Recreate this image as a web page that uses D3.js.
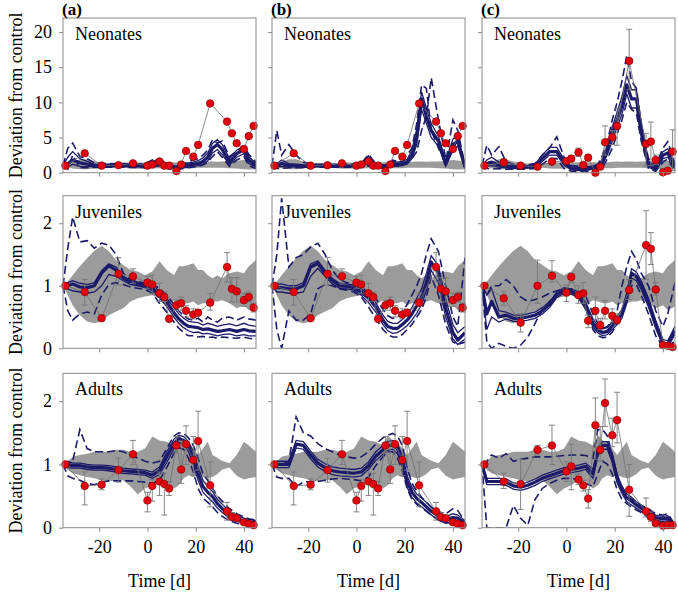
<!DOCTYPE html>
<html><head><meta charset="utf-8">
<script src="https://cdn.jsdelivr.net/npm/d3@7"></script>
<style>
body{margin:0;background:#fff}
svg{display:block}
text{font-family:"Liberation Serif","Times New Roman",serif;fill:#000}
</style>
</head><body>
<svg id="chart" width="678" height="596"></svg>
<script>
// ---------------- DATA ----------------
const panelLabels = ["(a)", "(b)", "(c)"];
const stageNames = ["Neonates", "Juveniles", "Adults"];
const xTicks = [-20, 0, 20, 40];
const yTicksNeo = [0, 5, 10, 15, 20];
const yTicksJuvAd = [0, 1, 2];

const obsTime = [-34,-26,-19,-12,-6,0,2,5,7,9,12,14,16,19,21,26,33,35,37,40,42,44];
const modelTime = [-35,-33,-31,-28,-25,-22,-19,-16,-13,-10,-7,-4,-1,2,5,8,11,13,15,17,19,21,23,25,27,29,31,34,37,40,42,45];

// observations
const neoObsAB = [1.0,2.76,1.0,1.07,1.33,1.0,1.17,1.6,1.0,1.0,0.24,1.17,3.09,2.28,3.95,9.85,7.27,5.6,4.18,3.38,5.2,6.65];
const neoObsC  = [1.0,1.48,1.0,0.85,1.57,1.67,2.0,2.9,1.1,2.14,0.0,0.85,4.33,5.04,6.65,15.9,4.09,4.42,1.81,0.05,0.28,3.0];
const neoErrHiC = [1.0,2.0,1.2,1.0,1.8,1.9,2.4,3.5,1.4,2.6,0.2,1.2,6.65,6.0,9.2,20.4,5.6,7.2,2.5,0.2,0.6,6.1];
const neoErrLoC = [1.0,1.0,0.8,0.7,1.3,1.4,1.6,2.3,0.8,1.7,0.0,0.5,2.5,4.0,3.9,11.8,1.0,1.0,1.2,0.0,0.0,0.3];

const juvObsAB   = [1.0,0.90,0.48,1.19,1.15,1.05,1.02,0.88,0.82,0.47,0.69,0.72,0.60,0.54,0.57,0.73,1.30,0.95,0.91,0.77,0.82,0.65];
const juvErrHiAB = [1.0,1.10,0.54,1.45,1.27,1.15,1.17,1.04,0.90,0.53,0.77,0.82,0.68,0.63,0.62,0.88,1.53,1.13,1.13,0.88,0.90,0.72];
const juvErrLoAB = [1.0,0.69,0.44,1.01,1.04,0.96,0.88,0.75,0.75,0.43,0.61,0.61,0.50,0.47,0.52,0.61,1.06,0.74,0.74,0.67,0.74,0.58];
const juvObsC    = [1.0,0.80,0.41,1.0,1.16,0.89,1.14,0.85,0.88,0.44,0.60,0.37,0.60,0.52,0.45,0.93,1.65,1.59,0.94,0.05,0.04,0.02];
const juvErrHiC  = [1.0,0.90,0.55,1.41,1.40,1.01,1.20,1.00,1.05,0.53,0.82,0.48,0.76,0.63,0.55,1.10,2.20,1.85,1.05,0.08,0.06,0.04];
const juvErrLoC  = [1.0,0.69,0.26,0.72,1.06,0.75,1.05,0.72,0.72,0.33,0.45,0.30,0.47,0.42,0.39,0.78,1.10,1.34,0.85,0.03,0.02,0.01];

const adObsAB   = [1.0,0.66,0.68,0.91,1.16,0.43,0.66,0.73,0.69,0.62,1.30,0.92,1.32,1.07,1.37,0.67,0.26,0.17,0.15,0.085,0.06,0.04];
const adErrHiAB = [1.0,0.88,0.77,1.10,1.38,0.56,0.76,0.88,0.86,0.73,1.44,1.37,1.61,1.44,1.84,1.04,0.40,0.24,0.20,0.12,0.08,0.06];
const adErrLoAB = [1.0,0.36,0.60,0.72,1.00,0.25,0.42,0.51,0.20,0.51,1.18,0.70,1.00,0.82,0.91,0.33,0.12,0.12,0.11,0.05,0.04,0.02];
const adObsC    = [1.0,0.73,0.69,1.23,1.30,0.89,0.97,0.76,0.67,0.46,1.62,1.23,1.97,1.46,1.70,0.60,0.26,0.17,0.07,0.03,0.04,0.04];
const adErrHiC  = [1.0,0.86,1.08,1.30,1.62,1.04,1.32,0.85,0.75,0.60,2.05,1.60,2.35,1.73,2.14,1.00,0.47,0.25,0.10,0.05,0.06,0.06];
const adErrLoC  = [1.0,0.62,0.29,1.15,1.00,0.73,0.60,0.68,0.58,0.31,1.08,1.05,1.60,1.28,1.34,0.18,0.17,0.10,0.04,0.01,0.02,0.02];

// control variability band
const neoBandUp = [1.0,1.3,1.6,1.9,1.9,1.6,1.4,1.3,1.4,1.3,1.4,1.5,1.4,1.45,1.5,1.45,1.5,1.45,1.5,1.5,1.55,1.6,1.55,1.6,1.6,1.55,1.6,1.6,1.7,1.8,1.75,1.6];
const neoBandLo = [1.0,0.8,0.6,0.5,0.5,0.6,0.7,0.7,0.65,0.7,0.6,0.55,0.6,0.6,0.62,0.6,0.6,0.62,0.62,0.65,0.65,0.7,0.7,0.7,0.72,0.7,0.7,0.65,0.6,0.5,0.45,0.5];
const juvBandUp = [1.0,1.07,1.17,1.31,1.44,1.56,1.64,1.55,1.41,1.33,1.25,1.23,1.17,1.23,1.39,1.25,1.17,1.31,1.31,1.33,1.36,1.25,1.25,1.17,1.12,1.17,1.12,1.2,1.23,1.2,1.31,1.41];
const juvBandLo = [1.0,0.85,0.69,0.53,0.43,0.4,0.43,0.53,0.59,0.64,0.75,0.8,0.83,0.85,0.8,0.69,0.77,0.75,0.72,0.72,0.75,0.69,0.72,0.72,0.75,0.75,0.77,0.72,0.64,0.69,0.61,0.67];
const adBandUp  = [1.0,1.05,1.12,1.15,1.17,1.2,1.2,1.2,1.23,1.23,1.2,1.2,1.25,1.44,1.38,1.36,1.3,1.46,1.38,1.36,1.25,1.15,1.25,1.36,1.15,1.1,1.06,1.02,1.15,1.36,1.3,1.2];
const adBandLo  = [1.0,0.91,0.86,0.83,0.8,0.78,0.75,0.73,0.75,0.75,0.65,0.53,0.62,0.67,0.75,0.73,0.62,0.67,0.78,0.83,0.8,0.83,0.8,0.78,0.8,0.85,0.92,0.95,0.82,0.76,0.78,0.8];

// model curves: mean (thick), hi/lo (thin solid), dhi/dlo (dashed)
const neoA_mean = [1.0,1.3,1.8,1.4,1.2,1.0,0.95,1.0,1.0,1.05,1.0,0.95,1.0,1.3,1.6,1.0,0.7,0.8,0.9,1.1,1.2,1.3,1.6,2.2,3.5,4.0,3.3,1.5,2.7,3.3,1.8,1.0];
const neoA_hi   = [1.0,2.2,3.0,2.0,1.6,1.2,1.1,1.2,1.15,1.2,1.15,1.1,1.2,1.6,1.9,1.2,0.9,1.0,1.1,1.4,1.5,1.7,2.1,2.8,4.2,4.7,4.0,2.0,3.2,3.8,2.3,1.3];
const neoA_lo   = [1.0,0.8,1.2,0.9,0.85,0.85,0.85,0.9,0.9,0.9,0.85,0.85,0.85,1.0,1.2,0.8,0.5,0.6,0.7,0.8,0.9,1.0,1.2,1.7,2.8,3.3,2.6,1.1,2.2,2.7,1.3,0.8];
const neoA_dhi  = [1.0,3.5,4.2,2.3,2.0,1.4,1.3,1.3,1.25,1.3,1.3,1.2,1.3,1.8,2.0,1.3,1.0,1.1,1.2,1.6,1.8,2.0,2.5,3.2,4.7,4.2,4.5,2.3,3.0,3.8,2.6,1.5];
const neoA_dlo  = [1.0,0.5,2.5,0.7,0.7,0.75,0.75,0.8,0.8,0.8,0.75,0.75,0.7,0.85,1.0,0.6,0.45,0.5,0.6,0.7,0.8,0.9,1.1,1.5,2.3,3.0,2.2,0.9,1.8,2.3,1.0,0.6];

const neoB_mean = [1.0,1.0,1.3,1.0,1.0,0.9,0.95,1.0,1.0,1.0,1.0,1.0,1.0,1.0,1.8,1.0,0.8,0.9,1.3,1.2,1.3,1.5,2.5,5.0,10.5,8.0,6.0,4.5,1.2,4.0,4.5,0.8];
const neoB_hi   = [1.0,1.3,1.8,1.3,1.2,1.1,1.1,1.15,1.15,1.15,1.15,1.15,1.15,1.2,2.4,1.2,1.0,1.1,1.6,1.5,1.6,1.9,3.2,6.2,11.5,9.2,7.0,5.2,1.6,4.8,5.3,1.1];
const neoB_lo   = [1.0,0.8,0.9,0.8,0.85,0.75,0.8,0.85,0.85,0.85,0.85,0.85,0.85,0.85,1.3,0.8,0.6,0.7,1.0,0.9,1.0,1.2,2.0,4.0,9.0,7.0,5.0,3.8,0.9,3.2,3.8,0.6];
const neoB_dhi  = [1.0,6.0,2.5,4.0,2.5,1.5,1.3,1.2,1.2,1.2,1.2,1.2,1.2,1.3,2.6,1.3,1.1,1.2,1.8,1.6,2.0,2.5,3.5,7.0,12.5,12.0,6.0,3.5,1.5,7.5,6.0,1.0];
const neoB_dlo  = [1.0,0.6,0.6,0.7,0.7,0.7,0.75,0.8,0.8,0.8,0.8,0.8,0.8,0.85,1.0,0.8,0.6,0.7,0.9,1.0,1.2,1.4,2.0,3.0,6.0,8.0,13.5,7.5,2.0,3.0,5.0,1.0];

const neoC_mean = [1.0,1.3,1.5,1.1,0.9,0.8,0.8,0.85,0.9,2.0,3.0,3.0,1.5,0.6,0.5,0.5,0.7,0.8,1.6,3.3,5.5,7.5,9.5,12.5,10.5,10.5,6.0,1.2,0.5,2.5,2.8,0.8];
const neoC_hi   = [1.0,1.8,2.2,1.5,1.1,1.0,1.0,1.05,1.2,2.5,3.6,3.6,1.9,0.85,0.75,0.75,0.95,1.0,2.0,4.0,6.5,8.6,10.8,13.8,11.8,11.8,7.0,1.6,0.8,3.0,3.4,1.1];
const neoC_lo   = [1.0,0.9,1.0,0.8,0.7,0.6,0.6,0.65,0.7,1.6,2.5,2.5,1.1,0.4,0.3,0.3,0.5,0.6,1.2,2.6,4.5,6.5,8.3,11.2,9.2,9.2,5.0,0.8,0.3,2.0,2.2,0.5];
const neoC_dhi  = [1.0,3.9,2.5,3.7,1.5,1.2,1.1,1.1,1.3,2.5,3.5,5.1,2.2,1.0,0.9,0.8,0.9,1.2,2.5,4.5,7.5,10.0,13.0,16.6,13.0,12.0,7.0,2.0,1.0,3.5,4.4,1.2];
const neoC_dlo  = [1.0,0.6,0.5,0.6,0.5,0.5,0.5,0.5,0.6,1.2,2.0,2.0,0.6,0.2,0.15,0.1,0.3,0.4,0.8,2.0,3.5,5.5,7.5,10.0,9.0,8.5,4.5,0.6,0.2,1.5,2.0,0.2];

const juvA_mean = [1.0,1.0,1.03,0.98,0.97,1.0,1.2,1.32,1.25,1.12,1.06,1.03,1.0,0.96,0.86,0.74,0.57,0.47,0.4,0.35,0.34,0.33,0.3,0.31,0.29,0.27,0.28,0.3,0.27,0.3,0.28,0.27];
const juvA_hi   = [1.0,1.05,1.08,1.04,1.02,1.05,1.24,1.35,1.3,1.15,1.09,1.06,1.03,1.0,0.92,0.8,0.65,0.55,0.48,0.43,0.42,0.41,0.37,0.4,0.38,0.35,0.37,0.39,0.36,0.4,0.37,0.35];
const juvA_lo   = [1.0,0.95,0.92,0.9,0.88,0.9,1.0,1.18,1.15,1.08,1.02,1.0,0.97,0.92,0.8,0.67,0.5,0.4,0.33,0.28,0.25,0.26,0.23,0.24,0.22,0.2,0.22,0.23,0.2,0.22,0.2,0.2];
const juvA_dhi  = [1.0,1.6,2.1,1.7,1.72,1.6,1.68,1.65,1.5,1.2,1.1,1.07,1.04,1.02,0.96,0.85,0.7,0.6,0.52,0.47,0.45,0.48,0.42,0.5,0.45,0.42,0.48,0.5,0.45,0.5,0.47,0.45];
const juvA_dlo  = [1.0,0.6,0.45,0.55,0.58,0.55,0.85,1.02,1.05,1.02,0.98,0.96,0.94,0.88,0.72,0.58,0.42,0.32,0.25,0.2,0.2,0.18,0.19,0.17,0.18,0.16,0.18,0.17,0.16,0.18,0.16,0.15];

const juvB_mean = [1.0,0.97,0.97,0.95,0.95,1.0,1.3,1.36,1.2,1.08,1.0,0.99,0.97,0.9,0.8,0.66,0.45,0.35,0.32,0.32,0.38,0.45,0.55,0.68,0.82,1.05,1.38,1.2,0.64,0.25,0.13,0.25];
const juvB_hi   = [1.0,1.02,1.03,1.0,1.0,1.05,1.35,1.4,1.25,1.12,1.04,1.03,1.01,0.95,0.86,0.73,0.53,0.43,0.4,0.4,0.46,0.54,0.65,0.8,0.95,1.2,1.48,1.32,0.78,0.38,0.25,0.35];
const juvB_lo   = [1.0,0.9,0.9,0.88,0.88,0.9,1.15,1.28,1.15,1.03,0.96,0.95,0.93,0.85,0.73,0.58,0.38,0.28,0.24,0.25,0.3,0.36,0.45,0.56,0.7,0.92,1.25,1.05,0.5,0.15,0.06,0.15];
const juvB_dhi  = [1.0,1.5,2.4,1.3,1.45,1.5,1.62,1.68,1.5,1.25,1.1,1.05,1.03,0.98,0.9,0.8,0.62,0.52,0.48,0.5,0.58,0.7,0.85,1.0,1.2,1.5,1.75,1.55,1.0,0.5,0.35,1.45];
const juvB_dlo  = [1.0,0.3,0.0,0.6,0.45,0.45,0.55,0.95,1.02,1.0,0.95,0.93,0.9,0.82,0.66,0.48,0.3,0.22,0.18,0.18,0.22,0.3,0.38,0.5,0.62,0.82,1.15,0.85,0.38,0.1,0.06,0.1];

const juvC_mean = [1.0,0.55,0.75,0.5,0.53,0.48,0.48,0.5,0.53,0.6,0.7,0.86,0.93,0.91,0.85,0.68,0.4,0.3,0.25,0.27,0.36,0.45,0.55,0.8,1.2,1.15,1.01,0.73,0.38,0.08,0.06,0.29];
const juvC_hi   = [1.0,0.85,0.95,0.6,0.58,0.53,0.53,0.55,0.58,0.65,0.74,0.9,0.97,0.95,0.9,0.74,0.47,0.36,0.31,0.33,0.42,0.52,0.62,0.88,1.27,1.22,1.08,0.8,0.45,0.14,0.12,0.35];
const juvC_lo   = [1.0,0.3,0.5,0.42,0.47,0.43,0.43,0.45,0.48,0.55,0.65,0.81,0.89,0.87,0.8,0.62,0.34,0.25,0.2,0.22,0.3,0.38,0.48,0.72,1.12,1.08,0.94,0.66,0.32,0.04,0.02,0.22];
const juvC_dhi  = [1.0,0.85,1.0,1.0,1.1,1.0,0.82,0.75,0.78,0.82,0.88,0.92,0.95,0.95,0.9,0.84,0.55,0.4,0.32,0.35,0.45,0.6,1.0,1.3,1.55,1.42,1.2,1.0,0.6,0.35,0.55,1.05];
const juvC_dlo  = [1.0,0.1,0.0,0.08,0.03,0.0,0.05,0.18,0.4,0.62,0.75,0.85,0.9,0.9,0.82,0.7,0.3,0.2,0.17,0.18,0.26,0.4,0.55,0.85,1.0,1.02,0.85,0.55,0.2,0.03,0.02,0.12];

const adA_mean = [1.0,1.0,0.98,0.98,0.96,0.95,0.95,0.94,0.92,0.9,0.89,0.88,0.87,0.83,0.9,1.12,1.33,1.41,1.38,1.28,1.1,0.85,0.65,0.56,0.49,0.38,0.3,0.2,0.14,0.11,0.09,0.08];
const adA_hi   = [1.0,1.05,1.02,1.02,1.0,0.99,0.99,0.98,0.96,0.94,0.93,0.92,0.91,0.88,0.96,1.2,1.4,1.46,1.44,1.36,1.2,0.96,0.75,0.65,0.57,0.45,0.37,0.26,0.19,0.15,0.13,0.11];
const adA_lo   = [1.0,0.95,0.94,0.94,0.92,0.91,0.91,0.9,0.88,0.86,0.85,0.84,0.83,0.78,0.84,1.03,1.25,1.35,1.32,1.2,1.0,0.75,0.56,0.48,0.41,0.31,0.24,0.15,0.1,0.08,0.06,0.05];
const adA_dhi  = [1.0,1.0,1.05,1.55,1.25,1.2,1.2,1.2,1.22,1.2,1.15,1.1,1.05,1.02,1.05,1.25,1.45,1.5,1.49,1.42,1.3,1.1,0.85,0.75,0.62,0.5,0.42,0.3,0.22,0.17,0.14,0.12];
const adA_dlo  = [1.0,0.82,0.78,0.75,0.7,0.68,0.72,0.74,0.74,0.74,0.74,0.73,0.72,0.7,0.75,0.95,1.18,1.26,1.24,1.1,0.88,0.62,0.47,0.4,0.33,0.24,0.18,0.11,0.07,0.05,0.04,0.03];

const adB_mean = [1.0,1.0,1.0,1.0,1.32,1.3,1.15,1.02,0.95,0.9,0.88,0.87,0.86,0.88,0.98,1.13,1.23,1.29,1.31,1.25,1.05,0.73,0.56,0.46,0.4,0.33,0.26,0.18,0.12,0.16,0.15,0.07];
const adB_hi   = [1.0,1.05,1.05,1.05,1.38,1.36,1.21,1.08,1.01,0.96,0.94,0.93,0.92,0.94,1.04,1.2,1.3,1.36,1.38,1.33,1.14,0.82,0.64,0.53,0.47,0.4,0.32,0.24,0.17,0.22,0.2,0.11];
const adB_lo   = [1.0,0.95,0.95,0.95,1.26,1.24,1.09,0.96,0.89,0.84,0.82,0.81,0.8,0.82,0.92,1.06,1.16,1.22,1.24,1.17,0.96,0.64,0.48,0.39,0.33,0.27,0.2,0.12,0.07,0.1,0.09,0.03];
const adB_dhi  = [1.0,1.0,1.0,1.05,1.75,1.5,1.45,1.33,1.25,1.2,1.15,1.12,1.1,1.12,1.2,1.32,1.42,1.46,1.49,1.45,1.3,0.95,0.7,0.58,0.48,0.4,0.33,0.25,0.22,0.3,0.27,0.1];
const adB_dlo  = [1.0,0.8,0.78,0.78,0.65,0.72,0.73,0.73,0.75,0.77,0.78,0.77,0.76,0.74,0.8,0.98,1.12,1.2,1.2,1.1,0.9,0.62,0.45,0.37,0.32,0.26,0.2,0.12,0.08,0.08,0.07,0.03];

const adC_mean = [1.0,0.73,0.73,0.73,0.72,0.66,0.64,0.67,0.72,0.78,0.82,0.86,0.9,0.92,0.94,0.97,0.85,1.2,1.3,1.3,1.1,0.78,0.6,0.47,0.42,0.36,0.31,0.23,0.16,0.14,0.15,0.02];
const adC_hi   = [1.0,0.78,0.78,0.78,0.77,0.71,0.69,0.72,0.77,0.83,0.87,0.91,0.95,0.97,0.99,1.02,0.92,1.26,1.36,1.36,1.17,0.85,0.66,0.53,0.48,0.41,0.36,0.28,0.2,0.18,0.19,0.05];
const adC_lo   = [1.0,0.68,0.68,0.68,0.67,0.61,0.59,0.62,0.67,0.73,0.77,0.81,0.85,0.87,0.89,0.92,0.78,1.14,1.24,1.24,1.03,0.71,0.54,0.41,0.36,0.31,0.26,0.18,0.12,0.1,0.11,0.0];
const adC_dhi  = [1.0,1.05,1.15,1.1,1.17,1.05,1.08,1.1,1.12,1.12,1.12,1.13,1.14,1.15,1.15,1.14,1.1,1.55,1.55,1.45,1.15,0.75,0.6,0.52,0.45,0.4,0.35,0.3,0.22,0.2,0.22,0.05];
const adC_dlo  = [1.0,0.0,0.0,0.0,0.0,0.35,0.15,0.04,0.45,0.62,0.7,0.75,0.78,0.78,0.76,0.7,0.65,0.85,1.05,1.0,0.85,0.6,0.45,0.38,0.33,0.28,0.24,0.16,0.1,0.08,0.08,0.01];

// ---------------- LAYOUT ----------------
const colLeft = [63, 272, 482];
const colWidth = 193;
const rowTop = [18, 195.7, 373.3];
const rowBottom = [172.7, 348.3, 527.7];
const yMax = [22, 2.44, 2.44];
const xDomain = [-35, 45];

const rows = [
  { ticks: yTicksNeo, band: [neoBandUp, neoBandLo],
    obs: [neoObsAB, neoObsAB, neoObsC], hi: [null, null, neoErrHiC], lo: [null, null, neoErrLoC],
    model: [[neoA_mean,neoA_hi,neoA_lo,neoA_dhi,neoA_dlo],[neoB_mean,neoB_hi,neoB_lo,neoB_dhi,neoB_dlo],[neoC_mean,neoC_hi,neoC_lo,neoC_dhi,neoC_dlo]] },
  { ticks: yTicksJuvAd, band: [juvBandUp, juvBandLo],
    obs: [juvObsAB, juvObsAB, juvObsC], hi: [juvErrHiAB, juvErrHiAB, juvErrHiC], lo: [juvErrLoAB, juvErrLoAB, juvErrLoC],
    model: [[juvA_mean,juvA_hi,juvA_lo,juvA_dhi,juvA_dlo],[juvB_mean,juvB_hi,juvB_lo,juvB_dhi,juvB_dlo],[juvC_mean,juvC_hi,juvC_lo,juvC_dhi,juvC_dlo]] },
  { ticks: yTicksJuvAd, band: [adBandUp, adBandLo],
    obs: [adObsAB, adObsAB, adObsC], hi: [adErrHiAB, adErrHiAB, adErrHiC], lo: [adErrLoAB, adErrLoAB, adErrLoC],
    model: [[adA_mean,adA_hi,adA_lo,adA_dhi,adA_dlo],[adB_mean,adB_hi,adB_lo,adB_dhi,adB_dlo],[adC_mean,adC_hi,adC_lo,adC_dhi,adC_dlo]] }
];

const NAVY = "#1b1b6a";
const svg = d3.select("#chart");
const defs = svg.append("defs");

rows.forEach((row, r) => {
  const y = d3.scaleLinear().domain([0, yMax[r]]).range([rowBottom[r], rowTop[r]]);
  svg.append("text")
    .attr("transform", `translate(22,${(rowTop[r] + rowBottom[r]) / 2}) rotate(-90)`)
    .attr("text-anchor", "middle").style("font-size", "18px")
    .text("Deviation from control");

  for (let c = 0; c < 3; c++) {
    const x = d3.scaleLinear().domain(xDomain).range([colLeft[c], colLeft[c] + colWidth]);
    const g = svg.append("g");
    const clipId = `clip-${r}-${c}`;
    defs.append("clipPath").attr("id", clipId).append("rect")
      .attr("x", colLeft[c]).attr("y", rowTop[r])
      .attr("width", colWidth).attr("height", rowBottom[r] - rowTop[r]);
    const inner = g.append("g").attr("clip-path", `url(#${clipId})`);

    const area = d3.area().x((d, i) => x(modelTime[i])).y0((d, i) => y(row.band[1][i])).y1(d => y(d));
    inner.append("path").datum(row.band[0]).attr("d", area).attr("fill", "#9b9b9b");

    const line = d3.line().x((d, i) => x(modelTime[i])).y(d => y(d));
    const [mMean, mHi, mLo, mDhi, mDlo] = row.model[c];
    [mDhi, mDlo].forEach(arr => inner.append("path").datum(arr).attr("d", line)
      .attr("fill", "none").attr("stroke", NAVY).attr("stroke-width", 1.6).attr("stroke-dasharray", "8,4"));
    [mHi, mLo].forEach(arr => inner.append("path").datum(arr).attr("d", line)
      .attr("fill", "none").attr("stroke", NAVY).attr("stroke-width", 1.3));
    inner.append("path").datum(mMean).attr("d", line)
      .attr("fill", "none").attr("stroke", NAVY).attr("stroke-width", 3.2).attr("stroke-linejoin", "round");

    const obs = row.obs[c];
    const oline = d3.line().x((d, i) => x(obsTime[i])).y(d => y(d));
    g.append("path").datum(obs).attr("d", oline).attr("fill", "none").attr("stroke", "#6e6e6e").attr("stroke-width", 0.8);
    if (row.hi[c]) {
      const hi = row.hi[c], lo = row.lo[c];
      obs.forEach((v, i) => {
        if (hi[i] - lo[i] < 1e-9) return;
        const xx = x(obsTime[i]);
        g.append("line").attr("x1", xx).attr("x2", xx).attr("y1", y(hi[i])).attr("y2", y(lo[i]))
          .attr("stroke", "#777").attr("stroke-width", 0.9);
        [hi[i], lo[i]].forEach(e => g.append("line").attr("x1", xx - 3).attr("x2", xx + 3)
          .attr("y1", y(e)).attr("y2", y(e)).attr("stroke", "#777").attr("stroke-width", 0.9));
      });
    }
    g.selectAll("circle.obs").data(obs).enter().append("circle")
      .attr("cx", (d, i) => x(obsTime[i])).attr("cy", d => y(d)).attr("r", 3.8)
      .attr("fill", "#e4000c").attr("stroke", "#7a0000").attr("stroke-width", 0.6);

    g.append("rect").attr("x", colLeft[c]).attr("y", rowTop[r])
      .attr("width", colWidth).attr("height", rowBottom[r] - rowTop[r])
      .attr("fill", "none").attr("stroke", "#8a8a8a").attr("stroke-width", 1);

    const yAxis = d3.axisLeft(y).tickValues(row.ticks).tickSize(4).tickPadding(7)
      .tickFormat(c === 0 ? (d => String(d)) : (() => ""));
    const ya = g.append("g").attr("transform", `translate(${colLeft[c]},0)`).call(yAxis);
    ya.select(".domain").remove();
    ya.selectAll("line").attr("stroke", "#8a8a8a");
    ya.selectAll("text").style("font-size", "18px").attr("font-family", null);

    const xAxis = d3.axisBottom(x).tickValues(xTicks).tickSize(4).tickPadding(9)
      .tickFormat(r === 2 ? (d => String(d)) : (() => ""));
    const xa = g.append("g").attr("transform", `translate(0,${rowBottom[r]})`).call(xAxis);
    xa.select(".domain").remove();
    xa.selectAll("line").attr("stroke", "#8a8a8a");
    xa.selectAll("text").style("font-size", "18px").attr("font-family", null);

    g.append("text").attr("x", colLeft[c] + 12).attr("y", rowTop[r] + 22)
      .style("font-size", "18px").text(stageNames[r]);

    if (r === 0) {
      svg.append("text").attr("x", colLeft[c] - 1).attr("y", 14.5)
        .style("font-size", "17px").style("font-weight", "bold").text(panelLabels[c]);
    }
    if (r === 2) {
      svg.append("text").attr("x", colLeft[c] + colWidth / 2).attr("y", 587)
        .attr("text-anchor", "middle").style("font-size", "18px").text("Time [d]");
    }
  }
});
</script>
</body></html>
